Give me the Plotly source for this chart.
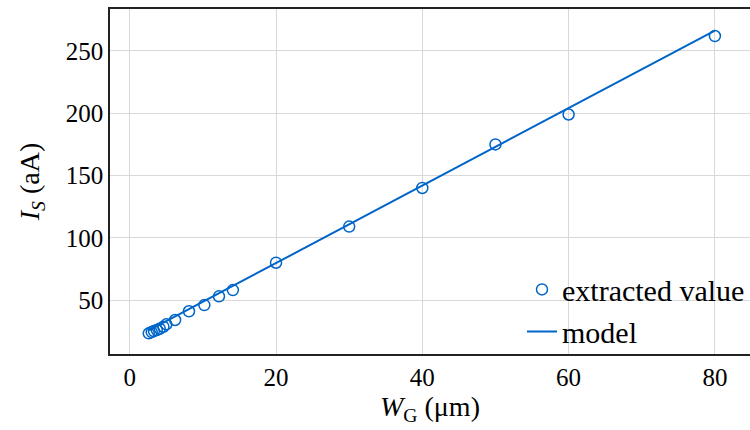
import plotly.graph_objects as go

# Extracted saturation current vs. gate width
gate_width_um = [2.6, 3.0, 3.3, 3.7, 4.1, 4.6, 5.0, 6.2, 8.1, 10.2, 12.2, 14.1, 20, 30, 40, 50, 60, 80]
sat_current_aA = [23.3, 24.3, 25.1, 25.9, 27.0, 28.6, 30.5, 34.0, 41.0, 46.0, 53.0, 58.0, 80, 109, 140, 175, 199, 262]

# Linear model evaluated at the end points of the width range
model_width_um = [2.6, 80]
model_current_aA = [25.6, 266.3]

x_ticks = [0, 20, 40, 60, 80]
y_ticks = [50, 100, 150, 200, 250]

BLUE = "#0065c9"
FAMILY = "Liberation Serif"


def serif(size):
    return dict(family=FAMILY, size=size, color="black")


fig = go.Figure()
fig.add_trace(go.Scatter(
    x=model_width_um, y=model_current_aA, mode="lines", name="model",
    line=dict(color=BLUE, width=2),
))
fig.add_trace(go.Scatter(
    x=gate_width_um, y=sat_current_aA, mode="markers", name="extracted value",
    marker=dict(symbol="circle-open", size=11, color=BLUE, line=dict(width=1.5, color=BLUE)),
))

fig.update_layout(
    width=750, height=430,
    margin=dict(l=110, r=0, t=9, b=76),
    paper_bgcolor="white", plot_bgcolor="white",
    font=serif(25),
    showlegend=True,
    legend=dict(
        x=1.0, xanchor="right", y=-0.01, yanchor="bottom",
        bgcolor="rgba(0,0,0,0)", traceorder="reversed",
        font=serif(30), itemwidth=30,
    ),
    xaxis=dict(
        range=[-2.7, 84.8], tickvals=x_ticks, showgrid=True, gridcolor="#d9d9d9", gridwidth=1,
        zeroline=False, showline=True, linecolor="#222", linewidth=1.5, mirror=True,
        ticks="", tickfont=serif(25),
        title=dict(text="<i>W</i><sub>G</sub> (μm)", standoff=6, font=serif(28)),
    ),
    yaxis=dict(
        range=[6.7, 283.7], tickvals=y_ticks, showgrid=True, gridcolor="#d9d9d9", gridwidth=1,
        zeroline=False, showline=True, linecolor="#222", linewidth=1.5,
        ticks="", tickfont=serif(25),
        title=dict(text="<i>I</i><sub><i>S</i></sub> (aA)", standoff=18, font=serif(28)),
    ),
)

fig.write_html("out.html")
